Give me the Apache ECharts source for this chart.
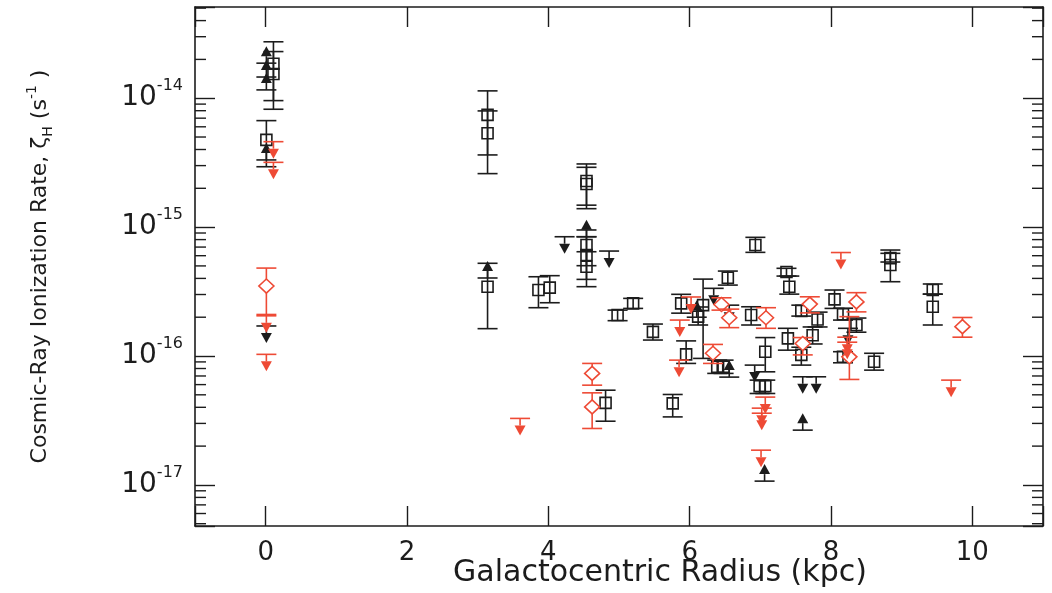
<!DOCTYPE html>
<html>
<head>
<meta charset="utf-8">
<script src="https://cdn.jsdelivr.net/npm/echarts@6/dist/echarts.min.js"></script>
<style>
  html, body { margin: 0; padding: 0; background: #fff; }
  #chart { width: 1052px; height: 593px; }
</style>
</head>
<body>
<div id="chart"></div>
<script>
// Cosmic-ray ionization rate vs galactocentric radius

// black squares with error bars: radius (kpc), rate, lower end, upper end (s^-1)
const sqR    = [0.11, 0.11, 0.01, 3.14, 3.14, 3.14, 3.86, 4.02, 4.54, 4.54, 4.54, 4.54, 4.54, 4.98, 5.20, 4.81,
                5.48, 5.76, 5.88, 5.95, 6.19, 6.12, 6.54, 6.39, 6.48, 6.87, 6.93, 7.07, 6.99, 7.07, 7.37, 7.41,
                7.39, 7.58, 7.58, 7.81, 7.74, 8.05, 8.17, 8.36, 8.17, 8.61, 8.84, 8.84, 9.44, 9.44];
const sqZeta = [1.85e-14, 1.54e-14, 4.75e-15, 7.42e-15, 5.35e-15, 3.45e-16, 3.25e-16, 3.39e-16, 2.28e-15, 2.16e-15,
                7.26e-16, 6.07e-16, 4.93e-16, 2.08e-16, 2.56e-16, 4.33e-17, 1.54e-16, 4.29e-17, 2.56e-16, 1.03e-16,
                2.48e-16, 2.02e-16, 4.05e-16, 8.25e-17, 8.25e-17, 2.08e-16, 7.26e-16, 1.08e-16, 5.84e-17, 5.84e-17,
                4.48e-16, 3.45e-16, 1.37e-16, 1.02e-16, 2.24e-16, 1.92e-16, 1.45e-16, 2.75e-16, 2.11e-16, 1.74e-16,
                9.86e-17, 9.02e-17, 5.75e-16, 5.08e-16, 3.25e-16, 2.41e-16];
const sqLow  = [9.58e-15, 8.21e-15, 2.94e-15, 3.63e-15, 2.60e-15, 1.63e-16, 2.37e-16, 2.59e-16, 1.48e-15, 1.39e-15,
                5.02e-16, 3.93e-16, 3.45e-16, 1.88e-16, 2.34e-16, 3.12e-17, 1.33e-16, 3.37e-17, 2.15e-16, 8.76e-17,
                9.58e-17, 1.74e-16, 3.55e-16, 7.33e-17, 7.33e-17, 1.74e-16, 6.37e-16, 7.54e-17, 5.12e-17, 5.12e-17,
                4.17e-16, 3.02e-16, 1.11e-16, 8.50e-17, 2.04e-16, 1.68e-16, 1.24e-16, 2.34e-16, 1.90e-16, 1.53e-16,
                8.86e-17, 7.77e-17, 5.36e-16, 3.77e-16, 3.02e-16, 1.74e-16];
const sqHigh = [2.74e-14, 2.30e-14, 6.70e-15, 1.14e-14, 7.97e-15, 5.24e-16, 4.12e-16, 4.20e-16, 3.09e-15, 2.91e-15,
                9.50e-16, 8.42e-16, 6.44e-16, 2.27e-16, 2.80e-16, 5.43e-17, 1.77e-16, 5.03e-17, 3.01e-16, 1.31e-16,
                3.95e-16, 2.40e-16, 4.56e-16, 9.29e-17, 9.29e-17, 2.41e-16, 8.33e-16, 1.39e-16, 6.50e-17, 6.50e-17,
                4.79e-16, 4.17e-16, 1.64e-16, 1.17e-16, 2.48e-16, 2.19e-16, 1.68e-16, 3.25e-16, 2.35e-16, 1.97e-16,
                1.08e-16, 1.05e-16, 6.64e-16, 6.26e-16, 3.62e-16, 3.02e-16];

// red diamonds with error bars
const dmR    = [0.01, 4.62, 4.62, 6.33, 6.45, 6.56, 7.08, 7.60, 7.70, 8.36, 8.26, 9.86];
const dmZeta = [3.49e-16, 7.33e-17, 4.03e-17, 1.05e-16, 2.51e-16, 1.98e-16, 1.98e-16, 1.25e-16, 2.53e-16, 2.63e-16, 9.86e-17, 1.69e-16];
const dmLow  = [2.10e-16, 5.94e-17, 2.74e-17, 8.76e-17, 2.27e-16, 1.66e-16, 1.64e-16, 1.02e-16, 2.16e-16, 2.20e-16, 6.58e-17, 1.40e-16];
const dmHigh = [4.81e-16, 8.76e-17, 5.18e-17, 1.23e-16, 2.83e-16, 2.31e-16, 2.37e-16, 1.39e-16, 2.88e-16, 3.10e-16, 2.02e-16, 1.99e-16];

// black lower limits (arrows up)
const lowLimR    = [0.01, 0.01, 0.01, 0.01, 3.14, 4.54, 6.56, 7.06, 7.60, 6.10];
const lowLimZeta = [1.87e-14, 1.46e-14, 1.16e-14, 3.32e-15, 4.03e-16, 8.42e-16, 6.86e-17, 1.07e-17, 2.66e-17, 2.00e-16];

// black upper limits (arrows down)
const upLimR    = [0.01, 4.23, 4.86, 6.34, 6.56, 6.92, 7.60, 7.79, 8.24];
const upLimZeta = [1.71e-16, 8.42e-16, 6.52e-16, 3.35e-16, 2.48e-16, 8.50e-17, 6.90e-17, 6.90e-17, 1.64e-16];

// red upper limits (arrows down)
const redLimR    = [0.11, 0.11, 0.01, 0.01, 3.60, 5.86, 6.02, 5.85, 7.07, 7.02, 7.02, 7.01, 8.14, 8.23, 8.23, 9.70];
const redLimZeta = [4.60e-15, 3.18e-15, 2.05e-16, 1.03e-16, 3.28e-17, 1.90e-16, 2.87e-16, 9.29e-17, 4.80e-17,
                    3.94e-17, 3.60e-17, 1.86e-17, 6.35e-16, 1.40e-16, 1.28e-16, 6.50e-17];

// minor ticks of the log axis: 2..9 within each decade
const minorSteps = [2, 3, 4, 5, 6, 7, 8, 9];
const decades = [-18, -17, -16, -15, -14];

const X_MIN = -1, X_MAX = 11;
const Y_MIN = 4.8e-18, Y_MAX = 5.1e-14;

const FONT = "DejaVu Sans";
const INK = "#1c1c1c";
const RED = "#ee4a35";
const CAP = 10;
const LW = 1.6;

const minorTicks = [];
decades.forEach((d) => {
  minorSteps.forEach((s) => {
    const v = s * Math.pow(10, d);
    if (v > Y_MIN && v < Y_MAX) minorTicks.push(v);
  });
});

function errorBarItem(shape, color) {
  return function (params, api) {
    const x = api.value(0);
    const c = api.coord([x, api.value(1)]);
    const lo = api.coord([x, api.value(2)]);
    const hi = api.coord([x, api.value(3)]);
    const st = { stroke: color, lineWidth: LW, fill: "none" };
    const kids = [
      { type: "line", shape: { x1: c[0], y1: lo[1], x2: c[0], y2: hi[1] }, style: st },
      { type: "line", shape: { x1: c[0] - CAP, y1: lo[1], x2: c[0] + CAP, y2: lo[1] }, style: st },
      { type: "line", shape: { x1: c[0] - CAP, y1: hi[1], x2: c[0] + CAP, y2: hi[1] }, style: st },
    ];
    if (shape === "square") {
      kids.push({ type: "rect", shape: { x: c[0] - 5.5, y: c[1] - 5.5, width: 11, height: 11 }, style: st });
    } else {
      kids.push({
        type: "polygon",
        shape: { points: [[c[0], c[1] - 7], [c[0] + 7.5, c[1]], [c[0], c[1] + 7], [c[0] - 7.5, c[1]]] },
        style: { stroke: color, lineWidth: LW, fill: "#fff" },
      });
    }
    return { type: "group", children: kids };
  };
}

// dir = -1 : arrow up (lower limit), dir = 1 : arrow down (upper limit)
function limitItem(dir, color) {
  return function (params, api) {
    const c = api.coord([api.value(0), api.value(1)]);
    const base = c[1] + dir * 7;
    const tip = c[1] + dir * 17;
    const st = { stroke: color, lineWidth: LW };
    return {
      type: "group",
      children: [
        { type: "line", shape: { x1: c[0] - CAP, y1: c[1], x2: c[0] + CAP, y2: c[1] }, style: st },
        { type: "line", shape: { x1: c[0], y1: c[1], x2: c[0], y2: base }, style: st },
        { type: "polygon", shape: { points: [[c[0] - 5.5, base], [c[0] + 5.5, base], [c[0], tip]] }, style: { fill: color } },
      ],
    };
  };
}

function minorTickItem(params, api) {
  const cs = params.coordSys;
  const y = api.coord([X_MIN, api.value(1)])[1];
  const st = { stroke: INK, lineWidth: 1.4 };
  return {
    type: "group",
    children: [
      { type: "line", shape: { x1: cs.x, y1: y, x2: cs.x + 11, y2: y }, style: st },
      { type: "line", shape: { x1: cs.x + cs.width - 11, y1: y, x2: cs.x + cs.width, y2: y }, style: st },
    ],
  };
}

const chart = echarts.init(document.getElementById("chart"));

const xAxisBase = {
  type: "value",
  min: X_MIN,
  max: X_MAX,
  splitNumber: 6,
  splitLine: { show: false },
  axisLine: { onZero: false, lineStyle: { color: INK, width: 1.6 } },
  axisTick: { inside: true, length: 20, lineStyle: { color: INK, width: 1.4 } },
};

const yAxisBase = {
  type: "log",
  logBase: 10,
  min: Y_MIN,
  max: Y_MAX,
  splitNumber: 4,
  splitLine: { show: false },
  minorTick: { show: false },
  axisLine: { onZero: false, lineStyle: { color: INK, width: 1.6 } },
  axisTick: { inside: true, length: 20, lineStyle: { color: INK, width: 1.4 } },
};

function isDecade(v) {
  const e = Math.log10(v);
  return Math.abs(e - Math.round(e)) < 1e-6;
}

const option = {
  animation: false,
  backgroundColor: "#fff",
  grid: { left: 195, right: 9, top: 7, bottom: 67, containLabel: false, outerBoundsMode: "none" },
  xAxis: [
    Object.assign({}, xAxisBase, {
      position: "bottom",
      // spacer token pushes the title right of the plot centre, as in the original
      name: "{sp|}{t|Galactocentric Radius (kpc)}",
      nameLocation: "middle",
      nameGap: 22,
      nameMoveOverlap: false,
      nameTextStyle: {
        fontFamily: FONT,
        fontSize: 30,
        color: INK,
        rich: {
          sp: { width: 82, height: 10 },
          t: {
            fontFamily: FONT,
            fontSize: 30,
            color: INK,
            backgroundColor: "#fff",
            padding: [10, 8, 2, 8],
          },
        },
      },
      axisLabel: {
        fontFamily: FONT,
        fontSize: 26,
        color: INK,
        margin: 14,
        formatter: (v) => (v % 2 === 0 ? String(v) : ""),
      },
    }),
    Object.assign({}, xAxisBase, { position: "top", axisLabel: { show: false } }),
  ],
  yAxis: [
    Object.assign({}, yAxisBase, {
      position: "left",
      name: "Cosmic-Ray Ionization Rate, {g|ζ}{sub|H} (s{sup|-1} )",
      nameLocation: "middle",
      nameRotate: 90,
      nameGap: 140,
      nameTextStyle: {
        fontFamily: FONT,
        fontSize: 22,
        color: INK,
        lineHeight: 30,
        rich: {
          g: { fontFamily: FONT, fontSize: 22, color: INK, lineHeight: 30 },
          sub: { fontFamily: FONT, fontSize: 14, color: INK, lineHeight: 14, verticalAlign: "bottom" },
          sup: { fontFamily: FONT, fontSize: 14, color: INK, lineHeight: 12, verticalAlign: "top" },
        },
      },
      axisLabel: {
        margin: 12,
        formatter: (v) => (isDecade(v) ? "{b|10}{e|" + Math.round(Math.log10(v)) + "}" : ""),
        rich: {
          b: { fontFamily: FONT, fontSize: 28, color: INK, lineHeight: 40 },
          e: { fontFamily: FONT, fontSize: 16, color: INK, lineHeight: 10, verticalAlign: "top" },
        },
      },
    }),
    Object.assign({}, yAxisBase, { position: "right", axisLabel: { show: false } }),
  ],
  series: [
    {
      type: "custom",
      name: "minor ticks",
      renderItem: minorTickItem,
      data: minorTicks.map((v) => [X_MIN, v]),
      silent: true,
      z: 1,
    },
    {
      type: "custom",
      name: "squares",
      renderItem: errorBarItem("square", INK),
      data: sqR.map((r, i) => [r, sqZeta[i], sqLow[i], sqHigh[i]]),
      z: 3,
    },
    {
      type: "custom",
      name: "lower limits",
      renderItem: limitItem(-1, INK),
      data: lowLimR.map((r, i) => [r, lowLimZeta[i]]),
      z: 3,
    },
    {
      type: "custom",
      name: "upper limits",
      renderItem: limitItem(1, INK),
      data: upLimR.map((r, i) => [r, upLimZeta[i]]),
      z: 3,
    },
    {
      type: "custom",
      name: "diamonds",
      renderItem: errorBarItem("diamond", RED),
      data: dmR.map((r, i) => [r, dmZeta[i], dmLow[i], dmHigh[i]]),
      z: 4,
    },
    {
      type: "custom",
      name: "red upper limits",
      renderItem: limitItem(1, RED),
      data: redLimR.map((r, i) => [r, redLimZeta[i]]),
      z: 4,
    },
  ],
};

chart.setOption(option);
</script>
</body>
</html>
